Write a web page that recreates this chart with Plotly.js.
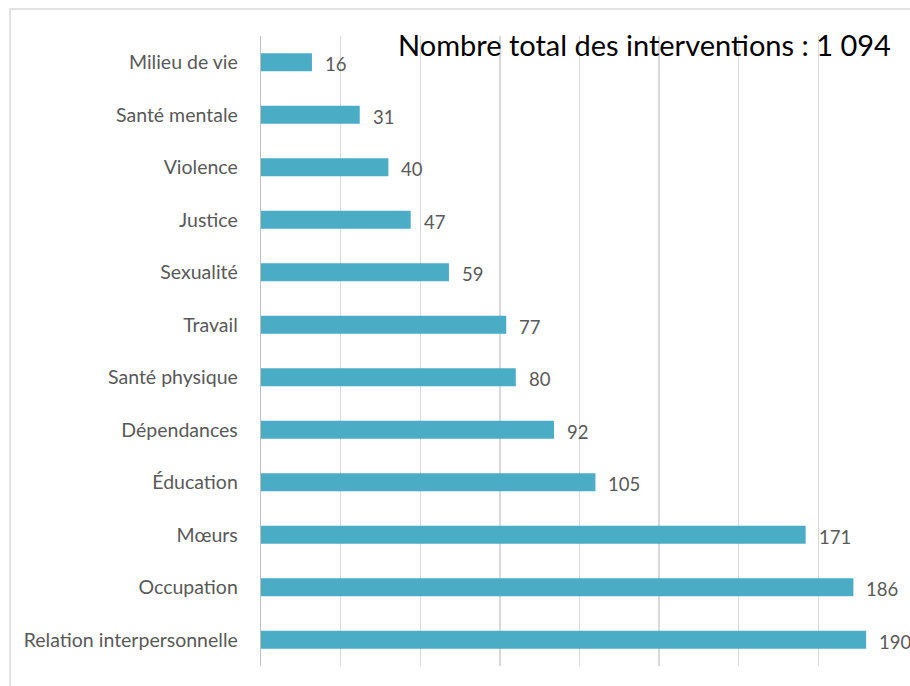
<!DOCTYPE html>
<html>
<head>
<meta charset="utf-8">
<script src="https://cdn.plot.ly/plotly-3.0.1.min.js"></script>
<style>
  html, body { margin: 0; padding: 0; background: #fff; }
  #chart { width: 910px; height: 686px; }
</style>
</head>
<body>
<div id="chart"></div>
<script>
// categories, bottom to top
var categories = ['Relation interpersonnelle', 'Occupation', 'Mœurs', 'Éducation', 'Dépendances',
  'Santé physique', 'Travail', 'Sexualité', 'Justice', 'Violence', 'Santé mentale', 'Milieu de vie'];
var counts = [190, 186, 171, 105, 92, 80, 77, 59, 47, 40, 31, 16];
var totalLabel = 'Nombre total des interventions : 1 094';

var grey = '#595959';
var face = 'Lato, sans-serif';

var trace = {
  type: 'bar',
  orientation: 'h',
  x: counts,
  y: categories,
  marker: { color: '#4BACC6' },
  hoverinfo: 'x+y'
};

// value labels next to each bar
var labels = counts.map(function (v, i) {
  return {
    x: v, y: categories[i], xref: 'x', yref: 'y',
    text: String(v), showarrow: false,
    xanchor: 'left', xshift: 11, yshift: -2,
    font: { family: face, size: 18.5, color: grey }
  };
});

labels.push({
  xref: 'paper', yref: 'paper', x: 1.0, y: 1.0,
  xanchor: 'right', yanchor: 'middle', xshift: -5, yshift: -8,
  text: totalLabel, showarrow: false,
  font: { family: face, size: 29, color: '#000' }
});

var layout = {
  width: 910,
  height: 686,
  margin: { l: 261, r: 12, t: 36, b: 20 },
  paper_bgcolor: '#fff',
  plot_bgcolor: '#fff',
  showlegend: false,
  bargap: 0.66,
  font: { family: face, size: 19, color: grey },
  xaxis: {
    range: [0, 200],
    dtick: 25,
    showticklabels: false,
    showgrid: true,
    gridcolor: '#d9d9d9',
    gridwidth: 1.3,
    zeroline: false,
    showline: false,
    fixedrange: true
  },
  yaxis: {
    type: 'category',
    categoryorder: 'array',
    categoryarray: categories,
    showline: true,
    linecolor: '#bfbfbf',
    linewidth: 1.3,
    ticks: '',
    ticklabelstandoff: 18,
    tickfont: { family: face, size: 19.5, color: grey },
    fixedrange: true
  },
  annotations: labels,
  shapes: [{
    type: 'rect', xref: 'paper', yref: 'paper',
    x0: -0.394, x1: 1.1, y0: -0.2, y1: 1.043,
    line: { color: '#d9d9d9', width: 1.5 },
    fillcolor: 'rgba(0,0,0,0)', layer: 'below'
  }]
};

Plotly.newPlot('chart', [trace], layout, { displayModeBar: false, staticPlot: true });
</script>
</body>
</html>
